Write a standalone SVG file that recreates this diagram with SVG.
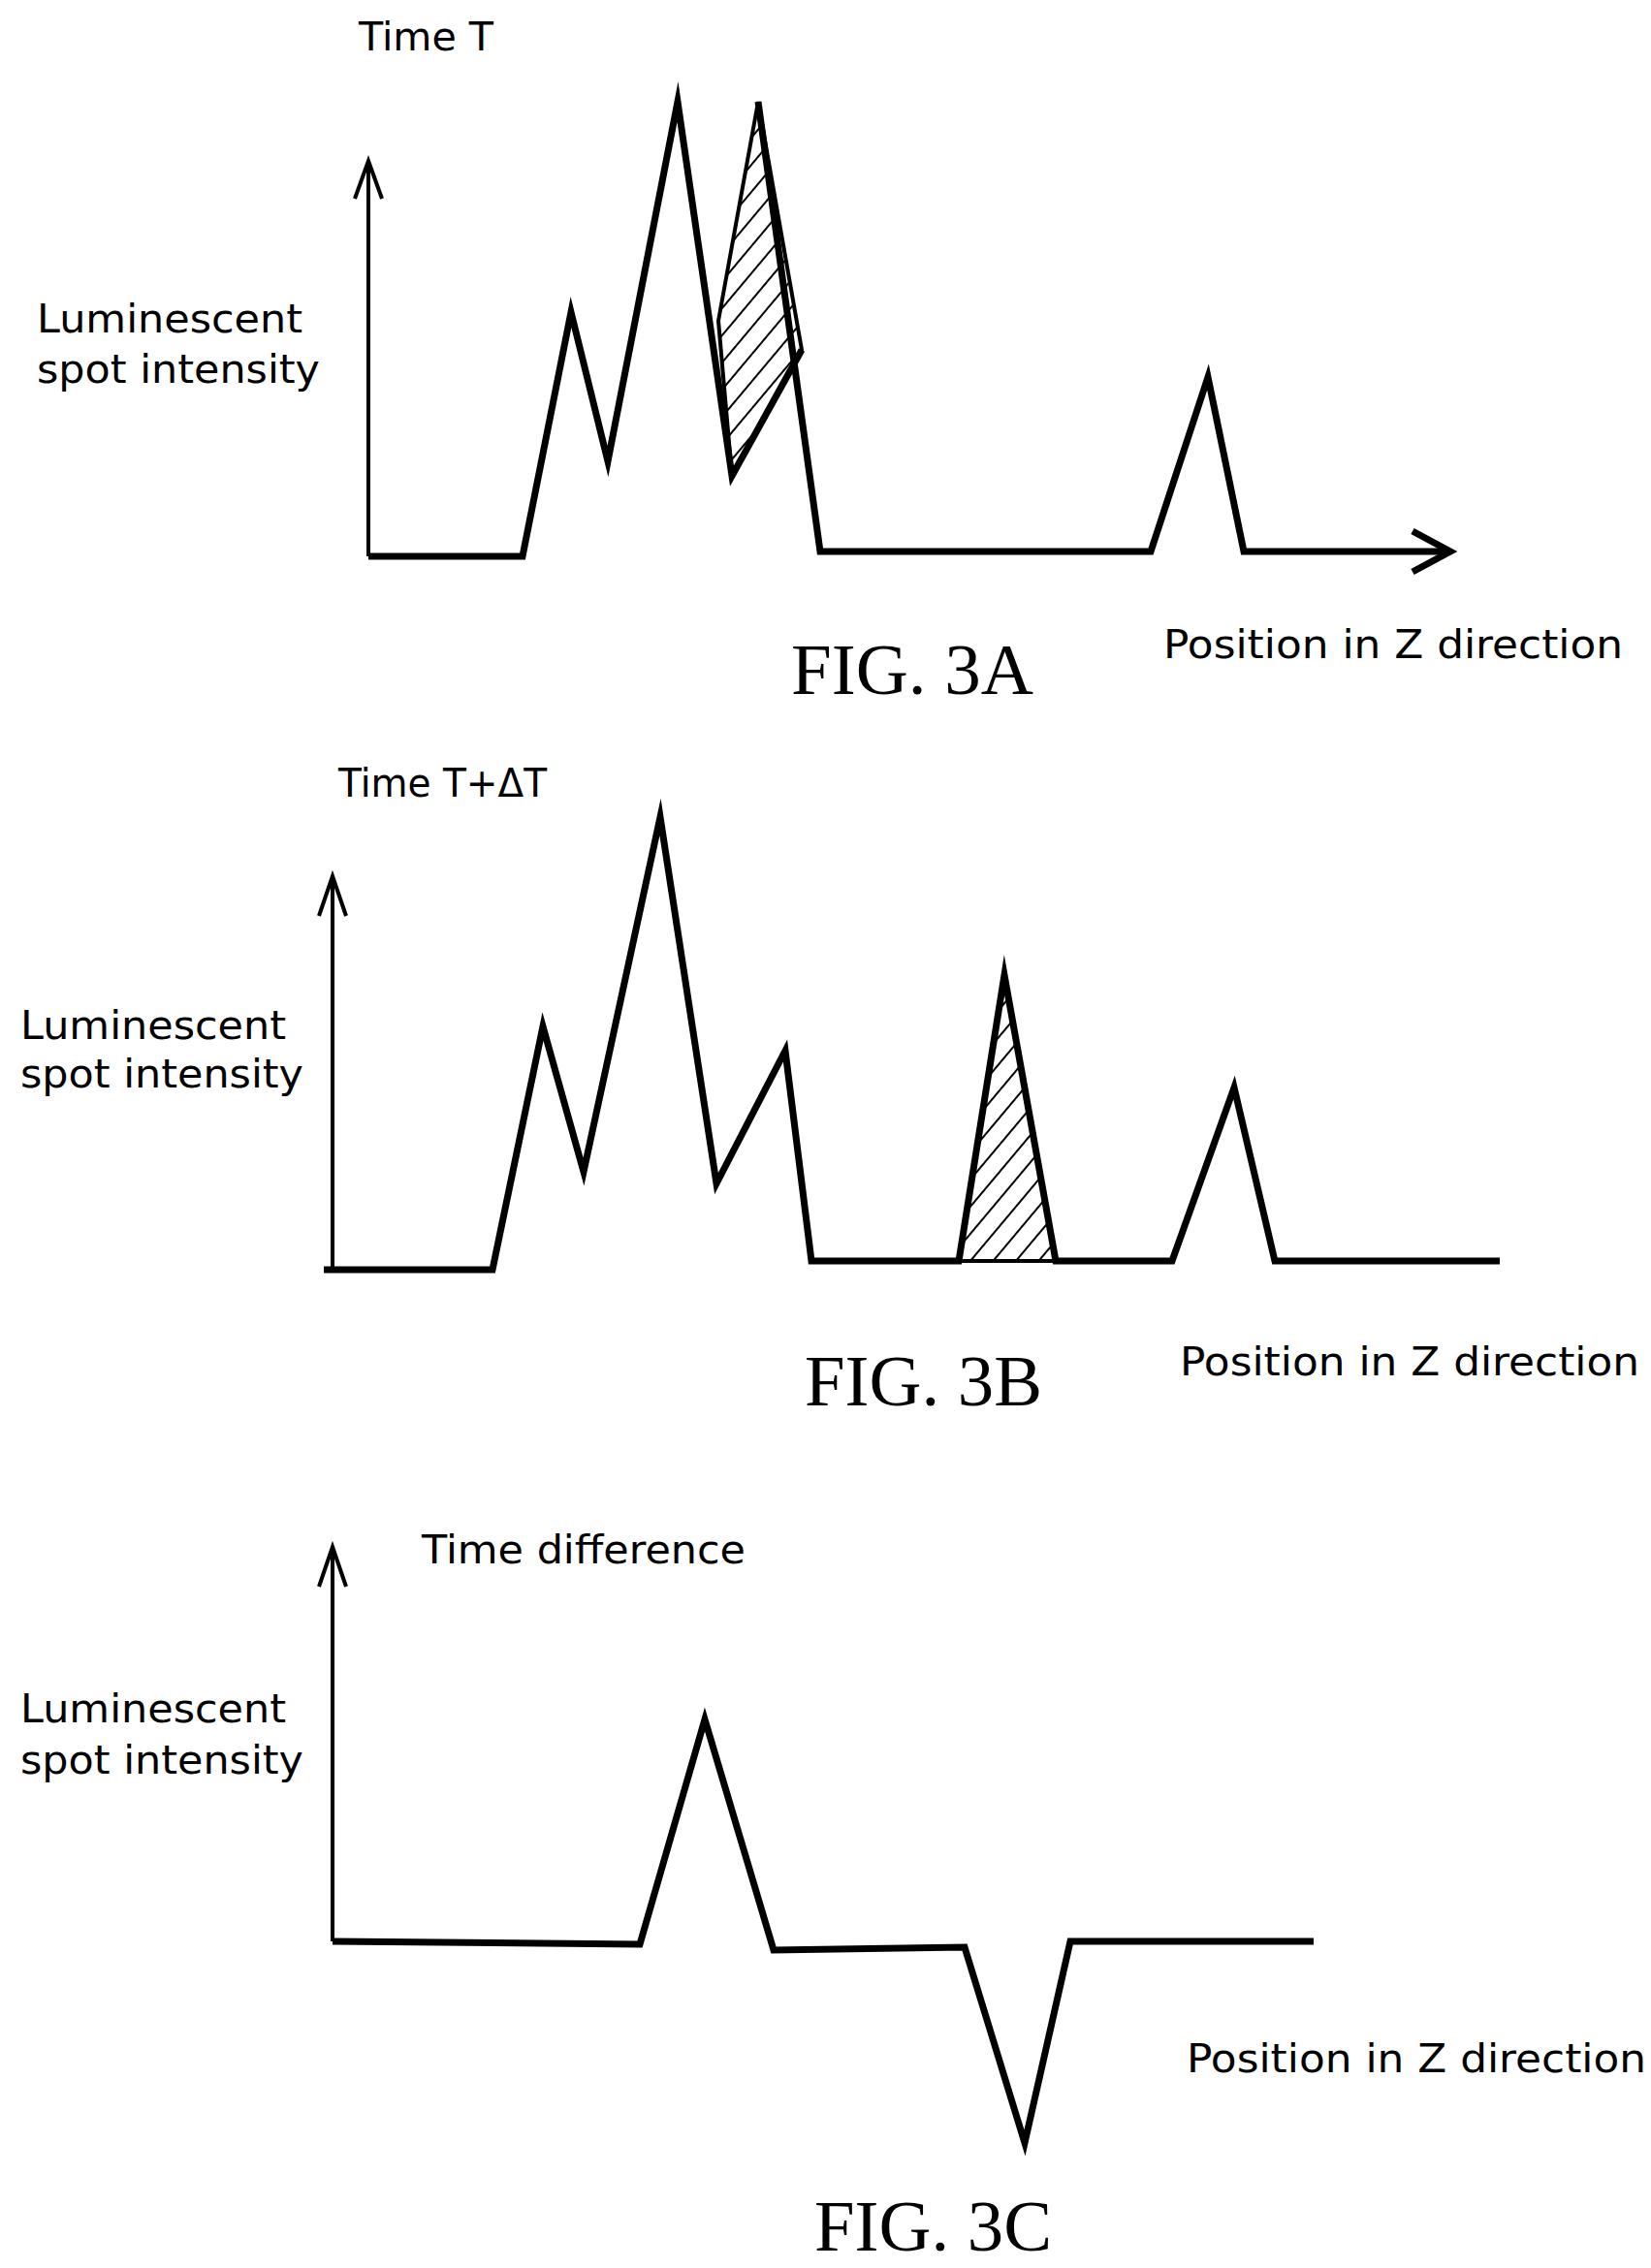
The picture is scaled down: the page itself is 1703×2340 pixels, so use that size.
<svg xmlns="http://www.w3.org/2000/svg" width="1703" height="2340" viewBox="0 0 1703 2340">
<style>
.t{font-family:"DejaVu Sans",sans-serif;font-size:40px;fill:#000}
.f{font-family:"Liberation Serif",serif;font-size:74px;fill:#000}
.ax{stroke:#000;stroke-width:4;fill:none}
.cv{stroke:#000;stroke-width:7;fill:none;stroke-linejoin:miter;stroke-miterlimit:10}
.h{fill:url(#hatch);stroke:#000;stroke-width:4}
</style>
<defs>
<pattern id="hatch" width="18" height="18" patternUnits="userSpaceOnUse" patternTransform="rotate(40)">
<rect width="18" height="18" fill="#fff"/>
<line x1="0" y1="0" x2="0" y2="18" stroke="#000" stroke-width="4"/>
</pattern>
</defs>
<rect width="1703" height="2340" fill="#fff"/>
<g id="figA">
<polygon class="h" points="782,105 741,331 755,491 827,361"/>
<polyline class="ax" points="380,574 380,172"/>
<polyline class="ax" points="366,205 380,166 394,205" stroke-width="5"/>
<polyline class="cv" points="380,574 539,574 589,322 627,476 699,105 755,491 827,361"/>
<polyline class="cv" points="782,105 846,569 1187,569 1246,389 1283,569 1490,569"/>
<polyline class="cv" points="1457,548 1496,569 1457,590"/>
<text class="t" x="370" y="52" textLength="139" lengthAdjust="spacingAndGlyphs">Time T</text>
<text class="t" x="38" y="343" textLength="274" lengthAdjust="spacingAndGlyphs">Luminescent</text>
<text class="t" x="38" y="395" textLength="292" lengthAdjust="spacingAndGlyphs">spot intensity</text>
<text class="t" x="1200" y="679" textLength="474" lengthAdjust="spacingAndGlyphs">Position in Z direction</text>
<text class="f" x="816" y="716" textLength="250" lengthAdjust="spacingAndGlyphs">FIG. 3A</text>
</g>
<g id="figB">
<polygon class="h" points="989,1301 1036,1006 1089,1301"/>
<polyline class="ax" points="343,1310 343,910"/>
<polyline class="ax" points="329,945 343,904 357,945" stroke-width="5"/>
<polyline class="cv" points="334,1310 508,1310 560,1059 602,1209 681,843 739,1221 810,1084 837,1301 989,1301 1036,1006 1089,1301 1209,1301 1273,1122 1315,1301 1547,1301"/>
<text class="t" x="349" y="822" textLength="215" lengthAdjust="spacingAndGlyphs">Time T+ΔT</text>
<text class="t" x="21" y="1072" textLength="274" lengthAdjust="spacingAndGlyphs">Luminescent</text>
<text class="t" x="21" y="1122" textLength="292" lengthAdjust="spacingAndGlyphs">spot intensity</text>
<text class="t" x="1217" y="1419" textLength="474" lengthAdjust="spacingAndGlyphs">Position in Z direction</text>
<text class="f" x="830" y="1450" textLength="245" lengthAdjust="spacingAndGlyphs">FIG. 3B</text>
</g>
<g id="figC">
<polyline class="ax" points="343,2003 343,1602"/>
<polyline class="ax" points="329,1637 343,1596 357,1637" stroke-width="5"/>
<polyline class="cv" points="343,2003 660,2006 727,1774 798,2012 995,2009 1057,2211 1104,2003 1355,2003"/>
<text class="t" x="435" y="1613" textLength="334" lengthAdjust="spacingAndGlyphs">Time difference</text>
<text class="t" x="21" y="1777" textLength="274" lengthAdjust="spacingAndGlyphs">Luminescent</text>
<text class="t" x="21" y="1830" textLength="292" lengthAdjust="spacingAndGlyphs">spot intensity</text>
<text class="t" x="1224" y="2138" textLength="474" lengthAdjust="spacingAndGlyphs">Position in Z direction</text>
<text class="f" x="840" y="2322" textLength="245" lengthAdjust="spacingAndGlyphs">FIG. 3C</text>
</g>
</svg>
